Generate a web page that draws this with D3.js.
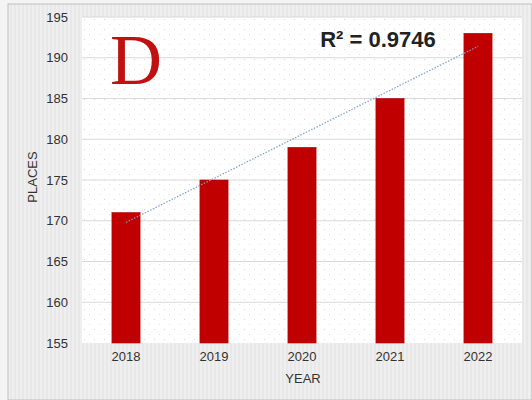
<!DOCTYPE html>
<html>
<head>
<meta charset="utf-8">
<script src="https://cdn.jsdelivr.net/npm/d3@7"></script>
<style>
  body { margin: 0; background: #fff; }
  svg { display: block; }
</style>
</head>
<body>
<div id="chart"></div>
<script>
// data
const years = ["2018", "2019", "2020", "2021", "2022"];
const places = [171, 175, 179, 185, 193];
const yTicks = [155, 160, 165, 170, 175, 180, 185, 190, 195];

const width = 532, height = 400;
const margin = { top: 17, right: 10, bottom: 57, left: 82 };
const plotW = width - margin.left - margin.right,
      plotH = height - margin.top - margin.bottom;

const svg = d3.select("#chart").append("svg")
  .attr("width", width)
  .attr("height", height);

const defs = svg.append("defs");
// faint vertical stripes of the outer frame
const stripes = defs.append("pattern")
  .attr("id", "stripes")
  .attr("width", 4).attr("height", 4)
  .attr("patternUnits", "userSpaceOnUse");
stripes.append("rect").attr("width", 4).attr("height", 4).attr("fill", "#e8e8e8");
stripes.append("rect").attr("width", 2).attr("height", 4).attr("fill", "#efefef");

// dotted fill of the plot area
const dots = defs.append("pattern")
  .attr("id", "dots")
  .attr("width", 10).attr("height", 10)
  .attr("patternUnits", "userSpaceOnUse");
dots.append("rect").attr("width", 10).attr("height", 10).attr("fill", "#ffffff");
dots.append("rect").attr("x", 2).attr("y", 2).attr("width", 1).attr("height", 1).attr("fill", "#d6d6d6");
dots.append("rect").attr("x", 7).attr("y", 7).attr("width", 1).attr("height", 1).attr("fill", "#e2e2e2");

// outer frame
svg.append("rect").attr("width", width).attr("height", height).attr("fill", "#f4f4f4");
svg.append("rect")
  .attr("x", 8).attr("y", 4)
  .attr("width", width - 8).attr("height", height - 4)
  .attr("fill", "url(#stripes)")
  .attr("stroke", "#bdbdbd")
  .attr("stroke-width", 1);

const g = svg.append("g")
  .attr("transform", `translate(${margin.left},${margin.top})`);

g.append("rect")
  .attr("width", plotW).attr("height", plotH)
  .attr("fill", "url(#dots)");

const x = d3.scaleBand()
  .domain(years)
  .range([0, plotW])
  .paddingInner(0.68)
  .paddingOuter(0.34);

const y = d3.scaleLinear()
  .domain([155, 195])
  .range([plotH, 0]);

// gridlines
g.append("g")
  .selectAll("line")
  .data(yTicks.slice(1))
  .join("line")
  .attr("x1", 0).attr("x2", plotW)
  .attr("y1", d => y(d)).attr("y2", d => y(d))
  .attr("stroke", "#d9d9d9")
  .attr("stroke-width", 1);

// y axis
const yAxis = g.append("g")
  .call(d3.axisLeft(y).tickValues(yTicks).tickSize(0).tickPadding(14));
yAxis.select(".domain").remove();
yAxis.selectAll("text")
  .attr("font-family", "Liberation Sans, Arial, sans-serif")
  .attr("font-size", 13)
  .attr("fill", "#333");

// x axis
const xAxis = g.append("g")
  .attr("transform", `translate(0,${plotH})`)
  .call(d3.axisBottom(x).tickSize(0).tickPadding(9));
xAxis.select(".domain").remove();
xAxis.selectAll("text")
  .attr("font-family", "Liberation Sans, Arial, sans-serif")
  .attr("font-size", 13)
  .attr("fill", "#333");

// bars
g.selectAll(".bar")
  .data(places)
  .join("rect")
  .attr("class", "bar")
  .attr("x", (d, i) => x(years[i]))
  .attr("y", d => y(d))
  .attr("width", x.bandwidth())
  .attr("height", d => plotH - y(d))
  .attr("fill", "#c00000")
  .attr("stroke", "#b00000")
  .attr("stroke-width", 0.6);

// linear trendline (least squares over the bar values)
const xi = places.map((d, i) => i);
const mx = d3.mean(xi), my = d3.mean(places);
const slope = d3.sum(xi, i => (i - mx) * (places[i] - my)) / d3.sum(xi, i => (i - mx) ** 2);
const icpt = my - slope * mx;
const trend = [0, places.length - 1].map(i => [i, icpt + slope * i]);

g.append("path")
  .datum(trend)
  .attr("fill", "none")
  .attr("stroke", "#7f9fd0")
  .attr("stroke-width", 1.2)
  .attr("stroke-dasharray", "1.5,1.5")
  .attr("d", d3.line()
    .x(d => x(years[d[0]]) + x.bandwidth() / 2)
    .y(d => y(d[1])));

// axis titles
svg.append("text")
  .attr("x", 303)
  .attr("y", 383)
  .attr("text-anchor", "middle")
  .attr("font-family", "Liberation Sans, Arial, sans-serif")
  .attr("font-size", 13)
  .attr("fill", "#333")
  .text("YEAR");

svg.append("text")
  .attr("transform", `translate(37,${margin.top + plotH / 2 - 3}) rotate(-90)`)
  .attr("text-anchor", "middle")
  .attr("font-family", "Liberation Sans, Arial, sans-serif")
  .attr("font-size", 13)
  .attr("fill", "#333")
  .text("PLACES");

// panel letter
svg.append("text")
  .attr("x", 110)
  .attr("y", 84)
  .attr("font-family", "Liberation Serif, 'Times New Roman', serif")
  .attr("font-size", 72)
  .attr("fill", "#c01010")
  .text("D");

// R² label
svg.append("text")
  .attr("x", 378)
  .attr("y", 47)
  .attr("text-anchor", "middle")
  .attr("font-family", "Liberation Sans, Arial, sans-serif")
  .attr("font-weight", "bold")
  .attr("font-size", 22)
  .attr("fill", "#222")
  .text("R² = 0.9746");
</script>
</body>
</html>
